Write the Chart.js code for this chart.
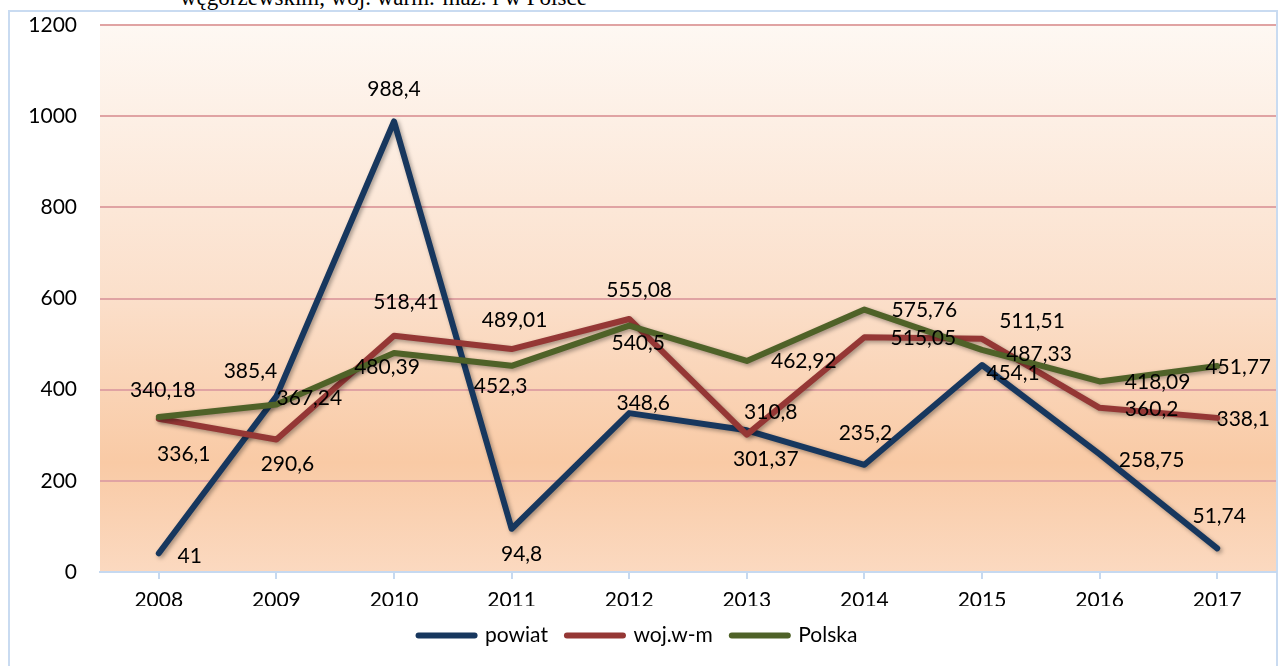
<!DOCTYPE html>
<html>
<head>
<meta charset="utf-8">
<script src="https://cdn.jsdelivr.net/npm/chart.js@4/dist/chart.umd.min.js"></script>
<style>
  html, body { margin: 0; padding: 0; background: #fff; overflow: hidden; }
  #wrap { position: relative; width: 1281px; height: 666px; }
  #frame {
    position: absolute; left: 8px; top: 10px; width: 1266px; height: 680px;
    border: 2px solid #c9dbf1;
  }
  #title {
    position: absolute; left: 180px; top: -14px; white-space: nowrap;
    font-family: "Liberation Serif", serif; font-size: 23px; line-height: 23px; color: #000;
  }
  #chart { position: absolute; left: 0; top: 0; }
</style>
</head>
<body>
<div id="wrap">
  <div id="frame"></div>
  <div id="title">węgorzewskim, woj. warm.-maz. i w Polsce</div>
  <canvas id="chart" width="1281" height="666"></canvas>
</div>
<script>
const years = ["2008", "2009", "2010", "2011", "2012", "2013", "2014", "2015", "2016", "2017"];
const powiat = [41, 385.4, 988.4, 94.8, 348.6, 310.8, 235.2, 454.1, 258.75, 51.74];
const wojWM = [336.1, 290.6, 518.41, 489.01, 555.08, 301.37, 515.05, 511.51, 360.2, 338.1];
const polska = [340.18, 367.24, 480.39, 452.3, 540.5, 462.92, 575.76, 487.33, 418.09, 451.77];

// where each data label sits relative to its point (px)
const powiatLabelOffsets = [[31, 3], [-26, -25], [0, -32], [10, 25], [14, -10], [24, -18], [1, -32], [31, 8], [52, 6], [2, -32]];
const wojLabelOffsets = [[25, 35], [11, 25], [12, -33], [3, -29], [10, -29], [19, 25], [59, 1], [50, -18], [52, 1], [26, 1]];
const polskaLabelOffsets = [[4, -27], [33, -6], [-7, 14], [-11, 20], [9, 18], [57, 0], [60, 1], [57, 4], [58, 1], [21, 1]];

Chart.defaults.font.family = "Lato";
Chart.defaults.font.size = 21;
Chart.defaults.color = "#000";

// gradient behind the plot area
const plotBackground = {
    id: "plotBackground",
    beforeDraw(chart) {
        const { ctx, chartArea: a } = chart;
        const g = ctx.createLinearGradient(0, a.top, 0, a.bottom);
        g.addColorStop(0, "#fef8f3");
        g.addColorStop(0.5, "#fbdfca");
        g.addColorStop(0.8, "#f9caa5");
        g.addColorStop(1, "#fbd9c0");
        ctx.save();
        ctx.fillStyle = g;
        ctx.fillRect(a.left, a.top, a.right - a.left, a.bottom - a.top);
        ctx.restore();
    }
};

// soft drop shadow under the lines
const lineShadow = {
    id: "lineShadow",
    beforeDatasetDraw(chart) {
        const ctx = chart.ctx;
        ctx.save();
        ctx.shadowColor = "rgba(0,0,0,0.35)";
        ctx.shadowBlur = 4;
        ctx.shadowOffsetX = 2;
        ctx.shadowOffsetY = 2;
    },
    afterDatasetDraw(chart) {
        chart.ctx.restore();
    }
};

// value labels, Polish decimal comma
const valueLabels = {
    id: "valueLabels",
    afterDatasetsDraw(chart) {
        const ctx = chart.ctx;
        ctx.save();
        ctx.font = "21px Lato";
        ctx.fillStyle = "#000";
        ctx.textAlign = "center";
        ctx.textBaseline = "middle";
        chart.data.datasets.forEach((ds, i) => {
            const meta = chart.getDatasetMeta(i);
            meta.data.forEach((pt, j) => {
                const off = ds.labelOffsets[j];
                const text = String(ds.data[j]).replace(".", ",");
                ctx.fillText(text, pt.x + off[0], pt.y + off[1]);
            });
        });
        ctx.restore();
    }
};

new Chart(document.getElementById("chart"), {
    type: "line",
    data: {
        labels: years,
        datasets: [
            { label: "powiat", data: powiat, borderColor: "#17375e", backgroundColor: "#17375e", order: 3, labelOffsets: powiatLabelOffsets },
            { label: "woj.w-m", data: wojWM, borderColor: "#953735", backgroundColor: "#953735", order: 2, labelOffsets: wojLabelOffsets },
            { label: "Polska", data: polska, borderColor: "#4f6228", backgroundColor: "#4f6228", order: 1, labelOffsets: polskaLabelOffsets }
        ]
    },
    options: {
        responsive: false,
        animation: false,
        elements: {
            line: { borderWidth: 6, tension: 0, borderCapStyle: "round", borderJoinStyle: "round" },
            point: { radius: 0, hoverRadius: 0 }
        },
        layout: { padding: { left: 0, right: 5, top: 0, bottom: 10 } },
        scales: {
            x: {
                offset: true,
                grid: { drawOnChartArea: false, drawTicks: true, tickLength: 7, color: "#c6d9f0", lineWidth: 2 },
                border: { display: true, color: "#c6d9f0", width: 2 },
                ticks: { padding: 9 },
                afterFit(scale) { scale.height = 34; }
            },
            y: {
                min: 0,
                max: 1200,
                ticks: { stepSize: 200, padding: 23, callback: v => String(v) },
                grid: {
                    drawTicks: false,
                    lineWidth: 2,
                    color: c => (c.tick && c.tick.value === 0 ? "rgba(0,0,0,0)" : "#e0a3a3")
                },
                border: { display: false },
                afterFit(scale) {
                    scale.width = 100;
                    scale.paddingTop = 25;
                }
            }
        },
        plugins: {
            legend: {
                position: "bottom",
                labels: {
                    usePointStyle: true,
                    pointStyle: "line",
                    pointStyleWidth: 56,
                    padding: 19,
                    generateLabels(chart) {
                        const items = Chart.defaults.plugins.legend.labels.generateLabels(chart);
                        items.forEach(it => { it.lineWidth = 6; it.lineCap = "round"; });
                        return items;
                    },
                    sort: (a, b) => a.datasetIndex - b.datasetIndex
                }
            },
            tooltip: { enabled: false }
        }
    },
    plugins: [plotBackground, lineShadow, valueLabels]
});
</script>
</body>
</html>
